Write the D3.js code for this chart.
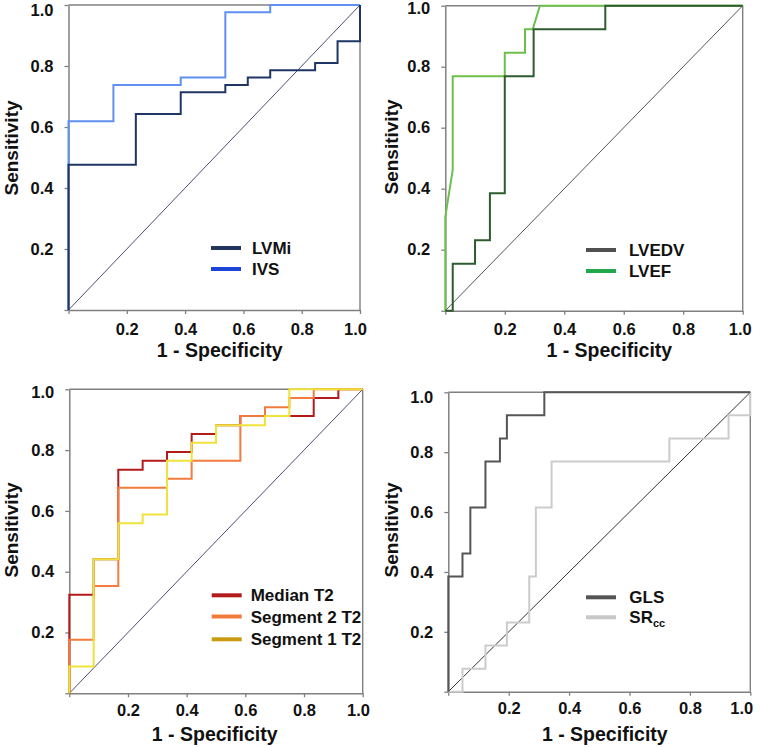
<!DOCTYPE html>
<html>
<head>
<meta charset="utf-8">
<script src="https://cdn.jsdelivr.net/npm/d3@7"></script>
<style>
  html, body { margin: 0; padding: 0; background: #fff; }
  svg { display: block; }
  text { font-family: "Liberation Sans", Arial, sans-serif; font-weight: bold; }
</style>
</head>
<body>
<svg id="chart" width="762" height="747"></svg>
<script>
// ---------------- DATA ----------------
const tickValues = [0, 0.2, 0.4, 0.6, 0.8, 1.0];
const tickLabels = ["", "0.2", "0.4", "0.6", "0.8", "1.0"];
const xTitle = "1 - Specificity";
const yTitle = "Sensitivity";

// Panel A
const lvmiFpr = [0, 0, 0.231, 0.231, 0.385, 0.385, 0.538, 0.538, 0.615, 0.615, 0.692, 0.692, 0.846, 0.846, 0.923, 0.923, 1, 1];
const lvmiTpr = [0, 0.476, 0.476, 0.643, 0.643, 0.714, 0.714, 0.738, 0.738, 0.762, 0.762, 0.786, 0.786, 0.810, 0.810, 0.881, 0.881, 1];
const ivsFpr = [0, 0, 0.154, 0.154, 0.385, 0.385, 0.538, 0.538, 0.692, 0.692, 1];
const ivsTpr = [0, 0.619, 0.619, 0.738, 0.738, 0.762, 0.762, 0.976, 0.976, 1, 1];

// Panel B
const lvedvFpr = [0, 0.025, 0.025, 0.1, 0.1, 0.15, 0.15, 0.2, 0.2, 0.297, 0.297, 0.538, 0.538, 1];
const lvedvTpr = [0, 0, 0.154, 0.154, 0.231, 0.231, 0.385, 0.385, 0.769, 0.769, 0.923, 0.923, 1, 1];
const lvefFpr = [0, 0, 0.025, 0.025, 0.2, 0.2, 0.268, 0.268, 0.294, 0.318, 1];
const lvefTpr = [0, 0.308, 0.462, 0.769, 0.769, 0.846, 0.846, 0.923, 0.923, 1, 1];

// Panel C
const medianFpr = [0, 0, 0.083, 0.083, 0.167, 0.167, 0.25, 0.25, 0.333, 0.333, 0.417, 0.417, 0.5, 0.5, 0.583, 0.583, 0.833, 0.833, 0.917, 0.917, 1];
const medianTpr = [0, 0.324, 0.324, 0.441, 0.441, 0.735, 0.735, 0.765, 0.765, 0.794, 0.794, 0.853, 0.853, 0.882, 0.882, 0.912, 0.912, 0.971, 0.971, 1, 1];
const seg2Fpr = [0, 0, 0.083, 0.083, 0.167, 0.167, 0.333, 0.333, 0.417, 0.417, 0.583, 0.583, 0.667, 0.667, 0.75, 0.75, 0.833, 0.833, 1];
const seg2Tpr = [0, 0.176, 0.176, 0.353, 0.353, 0.676, 0.676, 0.706, 0.706, 0.765, 0.765, 0.912, 0.912, 0.941, 0.941, 0.971, 0.971, 1, 1];
const seg1Fpr = [0, 0, 0.083, 0.083, 0.167, 0.167, 0.25, 0.25, 0.333, 0.333, 0.417, 0.417, 0.5, 0.5, 0.667, 0.667, 0.75, 0.75, 1];
const seg1Tpr = [0, 0.088, 0.088, 0.441, 0.441, 0.559, 0.559, 0.588, 0.588, 0.765, 0.765, 0.824, 0.824, 0.882, 0.882, 0.912, 0.912, 1, 1];

// Panel D
const glsFpr = [0, 0, 0.047, 0.047, 0.073, 0.073, 0.123, 0.123, 0.171, 0.171, 0.194, 0.194, 0.318, 0.318, 1];
const glsTpr = [0, 0.385, 0.385, 0.462, 0.462, 0.615, 0.615, 0.769, 0.769, 0.846, 0.846, 0.923, 0.923, 1, 1];
const srccFpr = [0, 0.047, 0.047, 0.123, 0.123, 0.194, 0.194, 0.268, 0.268, 0.29, 0.29, 0.342, 0.342, 0.732, 0.732, 0.928, 0.928, 1, 1];
const srccTpr = [0, 0, 0.077, 0.077, 0.154, 0.154, 0.231, 0.231, 0.385, 0.385, 0.615, 0.615, 0.769, 0.769, 0.846, 0.846, 0.923, 0.923, 1];

// ---------------- LAYOUT ----------------
const panels = [
  { x0: 68.5, x1: 360, yTop: 5, yBot: 310, xPad: 9, topLblShift: 5, rightLblShift: -5,
    xTitleX: 219.7, xTitleY: 357, yTitleX: 18, yTitleY: 148,
    legX: 211, legText: 252, legY: [248, 269],
    series: [
      { name: "IVS", fpr: ivsFpr, tpr: ivsTpr, color: "#5f90f2", legend: "#1c45d8", leg: 1 },
      { name: "LVMi", fpr: lvmiFpr, tpr: lvmiTpr, color: "#1f3566", legend: "#22355f", leg: 0 }
    ], diag: "#4a5070" },
  { x0: 445.3, x1: 742.7, yTop: 5.7, yBot: 310.7, xPad: 9, topLblShift: 2.6, rightLblShift: -3,
    xTitleX: 609.3, xTitleY: 357, yTitleX: 398, yTitleY: 147,
    legX: 586, legText: 629, legY: [250, 271],
    series: [
      { name: "LVEF", fpr: lvefFpr, tpr: lvefTpr, color: "#6cc04a", legend: "#20a84a", leg: 1 },
      { name: "LVEDV", fpr: lvedvFpr, tpr: lvedvTpr, color: "#2e5b2f", legend: "#505050", leg: 0 }
    ], diag: "#555555" },
  { x0: 69.3, x1: 362.7, yTop: 389.3, yBot: 693.3, xPad: 7, topLblShift: 3, rightLblShift: -4.7,
    xTitleX: 214.7, xTitleY: 741, yTitleX: 18, yTitleY: 530,
    legX: 211.7, legText: 250.7, legY: [595.3, 616.5, 639.3],
    series: [
      { name: "Median T2", fpr: medianFpr, tpr: medianTpr, color: "#b31b1b", legend: "#b31b1b", leg: 0 },
      { name: "Segment 2 T2", fpr: seg2Fpr, tpr: seg2Tpr, color: "#f47b3e", legend: "#f47b3e", leg: 1 },
      { name: "Segment 1 T2", fpr: seg1Fpr, tpr: seg1Tpr, color: "#efe23a", legend: "#c99a12", leg: 2 }
    ], diag: "#4a5070" },
  { x0: 448.3, x1: 750.3, yTop: 392.3, yBot: 691.7, xPad: 7, topLblShift: 5, rightLblShift: -9,
    xTitleX: 604.8, xTitleY: 741, yTitleX: 398, yTitleY: 530,
    legX: 586, legText: 629.3, legY: [597.3, 617.3],
    series: [
      { name: "SRcc", fpr: srccFpr, tpr: srccTpr, color: "#cccccc", legend: "#c8c8c8", leg: 1, sub: true },
      { name: "GLS", fpr: glsFpr, tpr: glsTpr, color: "#555555", legend: "#555555", leg: 0 }
    ], diag: "#333333" }
];

// ---------------- DRAW ----------------
const svg = d3.select("#chart");
const axisColor = "#808080";

panels.forEach(p => {
  const x = d3.scaleLinear().domain([0, 1]).range([p.x0, p.x1]);
  const y = d3.scaleLinear().domain([0, 1]).range([p.yBot, p.yTop]);
  const g = svg.append("g");

  // frame (top/right)
  g.append("line").attr("x1", x(0)).attr("y1", y(1)).attr("x2", x(1)).attr("y2", y(1))
    .attr("stroke", axisColor).attr("stroke-width", 1.4);
  g.append("line").attr("x1", x(1)).attr("y1", y(0)).attr("x2", x(1)).attr("y2", y(1))
    .attr("stroke", axisColor).attr("stroke-width", 1.4);

  // axes
  const xa = g.append("g").attr("transform", `translate(0,${p.yBot})`)
    .call(d3.axisBottom(x).tickValues(tickValues).tickFormat((d, i) => tickLabels[i])
      .tickSize(4).tickSizeOuter(0).tickPadding(p.xPad));
  const ya = g.append("g").attr("transform", `translate(${p.x0},0)`)
    .call(d3.axisLeft(y).tickValues(tickValues).tickFormat((d, i) => tickLabels[i])
      .tickSize(4).tickSizeOuter(0).tickPadding(11));
  [xa, ya].forEach(a => {
    a.select(".domain").attr("stroke", axisColor).attr("stroke-width", 1.5);
    a.selectAll(".tick line").attr("stroke", axisColor).attr("stroke-width", 1.3);
    a.selectAll(".tick text").attr("fill", "#111").style("font-size", "16.5px")
      .style("font-weight", "bold").style("font-family", "'Liberation Sans', Arial, sans-serif");
  });
  ya.selectAll(".tick").filter(d => d === 1).select("text")
    .attr("transform", `translate(0,${p.topLblShift})`);
  xa.selectAll(".tick").filter(d => d === 1).select("text")
    .attr("transform", `translate(${p.rightLblShift},0)`);

  // diagonal
  g.append("line").attr("x1", x(0)).attr("y1", y(0)).attr("x2", x(1)).attr("y2", y(1))
    .attr("stroke", p.diag).attr("stroke-width", 1);

  // ROC curves
  const line = d3.line().x(d => x(d[0])).y(d => y(d[1]));
  p.series.forEach(s => {
    const pts = s.fpr.map((f, i) => [f, s.tpr[i]]);
    g.append("path").attr("d", line(pts)).attr("fill", "none")
      .attr("stroke", s.color).attr("stroke-width", 2).attr("stroke-linejoin", "miter");
  });

  // legend
  p.series.forEach(s => {
    const ly = p.legY[s.leg];
    g.append("line").attr("x1", p.legX).attr("x2", p.legX + 30).attr("y1", ly).attr("y2", ly)
      .attr("stroke", s.legend).attr("stroke-width", 4);
    const t = g.append("text").attr("x", p.legText).attr("y", ly + 6)
      .attr("fill", "#111").style("font-size", "17px");
    if (s.sub) {
      t.append("tspan").text("SR");
      t.append("tspan").attr("dy", 4).style("font-size", "11px").text("cc");
    } else {
      t.text(s.name);
    }
  });

  // titles
  g.append("text").attr("x", p.xTitleX).attr("y", p.xTitleY).attr("text-anchor", "middle")
    .attr("fill", "#111").style("font-size", "19.5px").text(xTitle);
  g.append("text").attr("transform", `translate(${p.yTitleX},${p.yTitleY}) rotate(-90)`)
    .attr("text-anchor", "middle").attr("fill", "#111").style("font-size", "19px").text(yTitle);
});
</script>
</body>
</html>
